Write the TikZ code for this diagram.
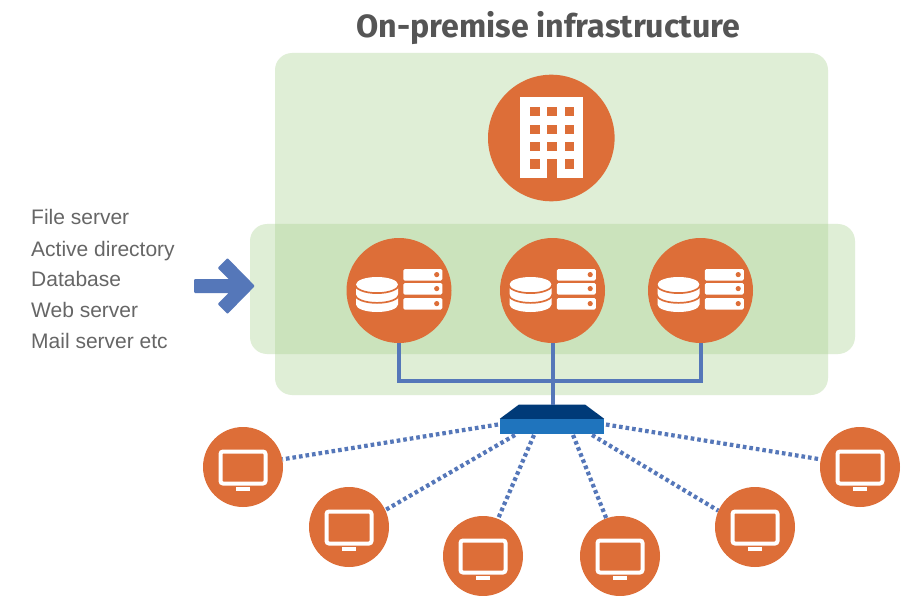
\documentclass[tikz,border=0pt]{standalone}
\usepackage{fontspec}
\setmainfont{Liberation Sans}
\newfontfamily\titlefont{Fira Sans}
\definecolor{zorange}{HTML}{DD6E38}
\definecolor{zblue}{HTML}{5577B9}
\definecolor{zgreen}{HTML}{A9D18E}
\definecolor{ztext}{HTML}{666666}
\definecolor{ztitle}{HTML}{555555}
\definecolor{zswtop}{HTML}{003A78}
\definecolor{zswfront}{HTML}{1F74BD}
\tikzset{
  zone/.style={fill=zgreen,fill opacity=0.36,rounded corners=17pt,draw=none},
  circ/.style={circle,fill=zorange,draw=none,inner sep=0pt,minimum size=#1},
  lbl/.style={anchor=base west,text=ztext,inner sep=0pt,font=\fontsize{21}{24}\selectfont},
  bus/.style={draw=zblue,line width=4pt},
  dots/.style={draw=zblue,line width=4.2pt,dash pattern=on 3.6pt off 3pt},
  pics/monitor/.style={code={
    \draw[white,line width=4pt,rounded corners=2.5pt] (-22.5,-15.5) rectangle (22.5,16.5);
    \fill[white] (-7.5,20) rectangle (7,24);
  }},
  pics/dbserver/.style={code={
    \fill[white] (-43,-6) -- (-43,14) arc[start angle=180,end angle=0,x radius=21,y radius=7.5] -- (-1,-6) arc[start angle=0,end angle=-180,x radius=21,y radius=7.5] -- cycle;
    \draw[zorange,line width=1.7pt] (-44,-6) arc[start angle=180,end angle=0,x radius=22,y radius=8.6];
    \draw[zorange,line width=1.7pt] (-44,4) arc[start angle=180,end angle=0,x radius=22,y radius=8.4];
    \foreach \yy in {-21.5,-7.5,7.5}{
      \fill[white,rounded corners=1.5pt] (4.3,\yy) rectangle (43.3,\yy+11.6);
      \fill[zorange] (37.7,\yy+5.6) circle[radius=2.6];
    }
  }}
}
\begin{document}
\begin{tikzpicture}[x=1pt,y=-1pt]
\useasboundingbox (0,0) rectangle (918,596);
\fill[white] (0,0) rectangle (918,596);
\node[inner sep=0pt,text=ztitle,font=\titlefont\fontsize{32.2}{36}\selectfont\bfseries] (title) at (548.5,28.5) {On-premise infrastructure};
\path[zone] (275,53) rectangle (828,395);
\path[zone] (250,224) rectangle (855,354);
\coordinate (busmid) at (552.5,381);
\node[circ=105pt] (s1) at (399,290.5) {};
\node[circ=105pt] (s2) at (552.5,290.5) {};
\node[circ=105pt] (s3) at (700.5,290.5) {};
\draw[bus] (s1.south) |- (busmid) -| (s3.south);
\node[draw=none,fill=zswfront,minimum width=104pt,minimum height=15pt,inner sep=0pt] (sw) at (552,426.5) {};
\fill[zswtop] (sw.north west) -- (519,404.5) -- (585,404.5) -- (sw.north east) -- cycle;
\coordinate (swtop) at (552.5,404.5);
\draw[bus] (s2.south) -- (swtop);
\node[circ=126.6pt] (hq) at (551.3,138) {};
\fill[white] (520.3,97.3) rectangle (583.3,178);
\foreach \xx in {530,547.4,564.8}\foreach \yy in {107,124.7,142}
  \fill[zorange] (\xx,\yy) rectangle ++(9.5,9.5);
\fill[zorange] (530,159.3) rectangle ++(9.5,9.5);
\fill[zorange] (564.8,159.3) rectangle ++(9.5,9.5);
\fill[zorange] (547.4,159.3) rectangle (556.9,178.2);
\pic at (s1) {dbserver};
\pic at (s2) {dbserver};
\pic at (s3) {dbserver};
\node[lbl] (t1) at (31,225) {File server};
\node[lbl] (t2) at (31,256) {Active directory};
\node[lbl] (t3) at (31,286) {Database};
\node[lbl] (t4) at (31,317) {Web server};
\node[lbl] (t5) at (31,348) {Mail server etc};
\fill[zblue,draw=zblue,line width=2pt,line join=round]
  (195,280) -- (231,280) -- (219,268) -- (227.5,259.5) -- (253.5,286) -- (227.5,312.5) -- (219,304) -- (231,292) -- (195,292) -- cycle;
\node[circ=80pt] (pc1) at (243,467) {};
\node[circ=80pt] (pc2) at (349,527) {};
\node[circ=80pt] (pc3) at (483,556) {};
\node[circ=80pt] (pc4) at (620,556) {};
\node[circ=80pt] (pc5) at (755,527) {};
\node[circ=80pt] (pc6) at (860,467) {};
\foreach \n in {pc1,pc2,pc3,pc4,pc5,pc6} \pic at (\n) {monitor};
\coordinate (sw1) at (498,424.5);
\coordinate (sw2) at (515,435);
\coordinate (sw3) at (534,435);
\coordinate (sw4) at (573,435);
\coordinate (sw5) at (592,435);
\coordinate (sw6) at (606,424.5);
\draw[dots] (sw1) -- (pc1.11);
\draw[dots] (sw2) -- (pc2.25);
\draw[dots] (sw3) -- (pc3.68);
\draw[dots] (sw4) -- (pc4.110);
\draw[dots] (sw5) -- (pc5.156);
\draw[dots] (sw6) -- (pc6.169);
\end{tikzpicture}
\end{document}
